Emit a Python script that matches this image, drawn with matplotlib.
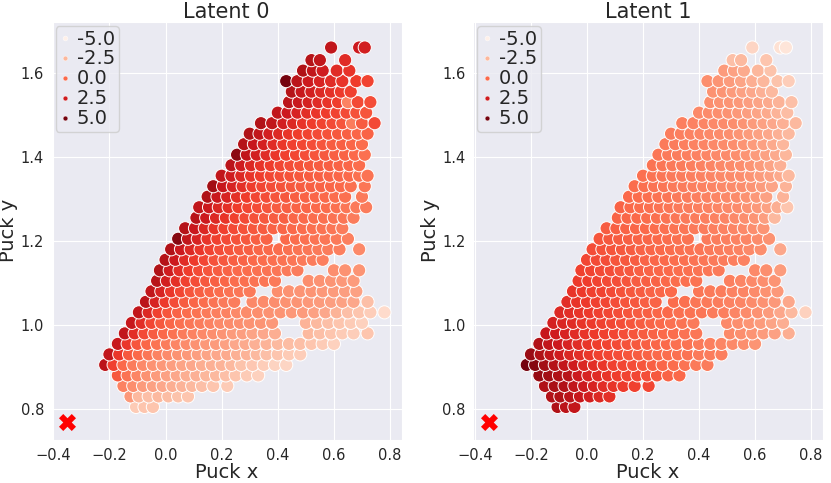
import numpy as np
import matplotlib
matplotlib.use("Agg")
import matplotlib.pyplot as plt
import matplotlib.colors as mplcolors
from matplotlib.lines import Line2D
import seaborn as sns

# Puck positions, one list per row of the cloud (bottom to top)
row_y = [0.805, 0.83, 0.855, 0.88, 0.905, 0.93, 0.955, 0.98, 1.005, 1.03,
         1.055, 1.08, 1.105, 1.13, 1.155, 1.18, 1.205, 1.23, 1.255, 1.28,
         1.305, 1.33, 1.355, 1.38, 1.405, 1.43, 1.455, 1.48, 1.505, 1.53,
         1.555, 1.58, 1.605, 1.63, 1.66]

row_x = [
    [-0.105, -0.075, -0.045],
    [-0.125, -0.095, -0.06, -0.025, 0.01, 0.045, 0.08],
    [-0.15, -0.115, -0.08, -0.045, -0.01, 0.025, 0.06, 0.095, 0.13, 0.17, 0.22],
    [-0.17, -0.135, -0.1, -0.065, -0.03, 0.005, 0.04, 0.075, 0.11, 0.145, 0.18, 0.215, 0.25, 0.29, 0.33],
    [-0.215, -0.185, -0.15, -0.115, -0.08, -0.045, -0.01, 0.025, 0.06, 0.095, 0.13, 0.165, 0.2, 0.235, 0.27, 0.31, 0.35, 0.39, 0.43],
    [-0.2, -0.165, -0.13, -0.095, -0.06, -0.025, 0.01, 0.045, 0.08, 0.115, 0.15, 0.185, 0.22, 0.255, 0.29, 0.325, 0.36, 0.40, 0.44, 0.48],
    [-0.17, -0.135, -0.1, -0.065, -0.03, 0.005, 0.04, 0.075, 0.11, 0.145, 0.18, 0.215, 0.25, 0.285, 0.32, 0.36, 0.40, 0.44, 0.48, 0.52, 0.56, 0.60],
    [-0.145, -0.11, -0.075, -0.04, -0.005, 0.03, 0.065, 0.1, 0.135, 0.17, 0.205, 0.24, 0.275, 0.31, 0.35, 0.39, 0.51, 0.55, 0.59, 0.63, 0.67, 0.72],
    [-0.12, -0.085, -0.05, -0.015, 0.02, 0.055, 0.09, 0.125, 0.16, 0.195, 0.23, 0.265, 0.30, 0.34, 0.38, 0.50, 0.54, 0.58, 0.62, 0.66, 0.70],
    [-0.095, -0.06, -0.025, 0.01, 0.045, 0.08, 0.115, 0.15, 0.185, 0.22, 0.255, 0.29, 0.33, 0.37, 0.41, 0.45, 0.49, 0.53, 0.57, 0.61, 0.65, 0.69, 0.73, 0.78],
    [-0.07, -0.035, 0.0, 0.035, 0.07, 0.105, 0.14, 0.175, 0.21, 0.245, 0.31, 0.35, 0.39, 0.43, 0.47, 0.51, 0.55, 0.59, 0.63, 0.67, 0.72],
    [-0.05, -0.015, 0.02, 0.055, 0.09, 0.125, 0.16, 0.195, 0.23, 0.265, 0.30, 0.40, 0.44, 0.48, 0.52, 0.56, 0.60, 0.64, 0.68],
    [-0.03, 0.005, 0.04, 0.075, 0.11, 0.145, 0.18, 0.215, 0.25, 0.285, 0.32, 0.355, 0.39, 0.51, 0.55, 0.59, 0.63, 0.67],
    [-0.02, 0.015, 0.05, 0.085, 0.12, 0.155, 0.19, 0.225, 0.26, 0.295, 0.33, 0.365, 0.40, 0.435, 0.47, 0.60, 0.64, 0.69],
    [0.0, 0.035, 0.07, 0.105, 0.14, 0.175, 0.21, 0.245, 0.28, 0.315, 0.35, 0.385, 0.42, 0.455, 0.49, 0.525, 0.56],
    [0.02, 0.055, 0.09, 0.125, 0.16, 0.195, 0.23, 0.265, 0.30, 0.335, 0.37, 0.405, 0.44, 0.475, 0.51, 0.545, 0.58, 0.62, 0.69],
    [0.045, 0.08, 0.115, 0.15, 0.185, 0.22, 0.255, 0.29, 0.325, 0.36, 0.43, 0.465, 0.50, 0.535, 0.57, 0.61, 0.65],
    [0.07, 0.105, 0.14, 0.175, 0.21, 0.245, 0.28, 0.315, 0.35, 0.385, 0.42, 0.455, 0.49, 0.525, 0.56, 0.595, 0.63],
    [0.11, 0.145, 0.18, 0.215, 0.25, 0.285, 0.32, 0.355, 0.39, 0.425, 0.46, 0.495, 0.53, 0.565, 0.60, 0.635, 0.67],
    [0.12, 0.155, 0.19, 0.225, 0.26, 0.295, 0.33, 0.365, 0.40, 0.435, 0.47, 0.505, 0.54, 0.575, 0.61, 0.645, 0.68, 0.715],
    [0.15, 0.185, 0.22, 0.255, 0.29, 0.325, 0.36, 0.395, 0.43, 0.465, 0.50, 0.535, 0.57, 0.605, 0.64, 0.70],
    [0.17, 0.205, 0.24, 0.275, 0.31, 0.345, 0.38, 0.415, 0.45, 0.485, 0.52, 0.555, 0.59, 0.625, 0.66, 0.71],
    [0.2, 0.235, 0.27, 0.305, 0.34, 0.375, 0.41, 0.445, 0.48, 0.515, 0.55, 0.585, 0.62, 0.655, 0.69, 0.72],
    [0.235, 0.27, 0.305, 0.34, 0.375, 0.41, 0.445, 0.48, 0.515, 0.55, 0.585, 0.62, 0.655, 0.69],
    [0.255, 0.29, 0.325, 0.36, 0.395, 0.43, 0.465, 0.50, 0.535, 0.57, 0.605, 0.64, 0.675, 0.71],
    [0.28, 0.315, 0.35, 0.385, 0.42, 0.455, 0.49, 0.525, 0.56, 0.595, 0.63, 0.665, 0.70],
    [0.30, 0.335, 0.37, 0.405, 0.44, 0.475, 0.51, 0.545, 0.58, 0.615, 0.65, 0.685, 0.72],
    [0.34, 0.38, 0.42, 0.455, 0.49, 0.525, 0.56, 0.595, 0.63, 0.665, 0.70, 0.745],
    [0.40, 0.435, 0.47, 0.505, 0.54, 0.575, 0.61, 0.645, 0.68, 0.715],
    [0.44, 0.475, 0.51, 0.545, 0.58, 0.615, 0.65, 0.685, 0.73],
    [0.45, 0.485, 0.52, 0.555, 0.59, 0.625, 0.66],
    [0.43, 0.47, 0.51, 0.55, 0.59, 0.63, 0.68, 0.72],
    [0.49, 0.525, 0.56, 0.61, 0.655],
    [0.52, 0.55, 0.64],
    [0.59, 0.69, 0.71],
]

latent0 = [
    [-3.2, -3.0, -3.0],
    [-1.5, -2.6, -2.8, -2.6, -2.7, -2.9, -3.0],
    [-0.8, -1.2, -1.6, -1.8, -2.0, -2.2, -2.4, -2.6, -2.8, -3.0, -3.2],
    [0.5, -0.3, -0.9, -1.3, -1.6, -1.8, -2.0, -2.2, -2.3, -2.5, -2.6, -2.8, -3.0, -3.2, -3.4],
    [3.2, 1.2, 0.0, -0.6, -1.0, -1.3, -1.5, -1.7, -1.9, -2.0, -2.2, -2.3, -2.4, -2.6, -2.9, -3.1, -3.3, -3.5, -3.6],
    [3.0, 1.5, 0.5, 0.0, -0.4, -0.8, -1.1, -1.3, -1.5, -1.7, -1.9, -2.0, -2.1, -2.3, -2.4, -2.6, -2.8, -3.0, -3.2, -3.3],
    [2.8, 1.5, 0.6, 0.1, -0.3, -0.6, -0.9, -1.1, -1.3, -1.5, -1.6, -1.8, -2.0, -2.1, -2.3, -2.4, -2.6, -2.7, -2.8, -3.0, -3.2, -3.4],
    [3.0, 1.8, 0.9, 0.4, 0.0, -0.3, -0.6, -0.8, -1.0, -1.2, -1.4, -1.6, -1.7, -1.9, -2.0, -2.2, -2.6, -2.8, -3.0, -3.2, -3.3, -3.0],
    [2.8, 1.8, 1.0, 0.5, 0.1, -0.2, -0.4, -0.6, -0.8, -1.0, -1.1, -1.2, -1.3, -1.4, -1.5, -2.4, -2.6, -2.8, -3.0, -3.2, -3.4],
    [3.0, 2.0, 1.2, 0.6, 0.2, -0.1, -0.3, -0.5, -0.7, -0.8, -1.0, -1.1, -1.2, -1.3, -1.4, -1.5, -1.6, -1.8, -2.0, -2.4, -2.8, -3.0, -3.3, -3.8],
    [3.2, 2.2, 1.4, 0.8, 0.4, 0.1, -0.1, -0.3, -0.5, -0.6, -1.0, -1.1, -1.2, -1.3, -1.4, -1.5, -1.6, -1.7, -1.8, -2.0, -2.8],
    [3.0, 2.2, 1.5, 1.0, 0.6, 0.3, 0.1, -0.1, -0.3, -0.4, -0.5, -1.2, -1.3, -1.4, -1.4, -1.5, -1.6, -1.7, -1.8],
    [3.3, 2.4, 1.7, 1.2, 0.8, 0.5, 0.3, 0.1, -0.1, -0.2, -0.3, -0.4, -0.5, -1.2, -1.3, -1.4, -1.5, -1.6],
    [3.6, 2.5, 1.8, 1.3, 0.9, 0.6, 0.4, 0.2, 0.0, -0.1, -0.2, -0.3, -0.4, -0.5, -0.6, -1.2, -1.3, -1.4],
    [3.4, 2.6, 1.9, 1.4, 1.0, 0.7, 0.5, 0.3, 0.2, 0.0, -0.1, -0.2, -0.3, -0.4, -0.5, -0.6, -0.7],
    [3.5, 2.6, 2.0, 1.5, 1.1, 0.8, 0.6, 0.4, 0.3, 0.1, 0.0, -0.1, -0.2, -0.3, -0.4, -0.5, -0.6, -0.7, -1.0],
    [4.6, 3.0, 2.2, 1.6, 1.2, 0.9, 0.7, 0.5, 0.3, 0.2, 0.0, -0.1, -0.2, -0.3, -0.4, -0.5, -0.7],
    [3.4, 2.7, 2.1, 1.6, 1.2, 0.9, 0.7, 0.5, 0.4, 0.2, 0.1, 0.0, -0.1, -0.2, -0.3, -0.4, -0.6],
    [3.3, 2.6, 2.0, 1.6, 1.2, 0.9, 0.7, 0.5, 0.4, 0.3, 0.1, 0.0, -0.1, -0.2, -0.3, -0.4, -0.6],
    [3.0, 2.6, 2.1, 1.7, 1.3, 1.0, 0.8, 0.6, 0.4, 0.3, 0.2, 0.1, 0.0, -0.1, -0.2, -0.4, -0.5, -0.6],
    [3.6, 2.7, 2.2, 1.7, 1.3, 1.0, 0.8, 0.6, 0.5, 0.3, 0.2, 0.1, 0.0, -0.1, -0.2, -0.5],
    [4.0, 2.8, 2.2, 1.7, 1.3, 1.0, 0.8, 0.7, 0.5, 0.4, 0.3, 0.2, 0.1, 0.0, -0.2, -0.4],
    [3.0, 2.5, 2.0, 1.6, 1.3, 1.0, 0.8, 0.7, 0.5, 0.4, 0.3, 0.2, 0.1, 0.0, -0.2, -0.3],
    [3.2, 2.5, 2.0, 1.6, 1.3, 1.0, 0.8, 0.7, 0.5, 0.4, 0.3, 0.2, 0.1, -0.1],
    [4.5, 3.0, 2.4, 1.9, 1.5, 1.2, 1.0, 0.8, 0.6, 0.5, 0.3, 0.2, 0.0, -0.2],
    [3.4, 2.8, 2.3, 1.9, 1.5, 1.2, 1.0, 0.8, 0.6, 0.4, 0.3, 0.1, -0.1],
    [3.6, 3.0, 2.4, 2.0, 1.6, 1.3, 1.1, 0.9, 0.7, 0.5, 0.3, 0.1, 0.2],
    [3.5, 3.0, 2.4, 2.0, 1.6, 1.3, 1.1, 0.9, 0.6, -0.6, 0.4, 0.9],
    [3.0, 2.6, 2.2, 1.8, 1.5, 1.3, 1.1, 0.9, 0.7, 0.6],
    [3.2, 2.7, 2.3, 1.9, 1.6, 1.3, -0.8, 0.9, 0.8],
    [3.4, 2.8, 2.4, 2.0, 1.7, 1.4, 1.2],
    [5.0, 3.2, 2.6, 2.2, 1.9, 1.6, 1.3, 1.1],
    [3.6, 3.0, 2.5, 1.9, 1.6],
    [3.4, 3.0, 1.9],
    [3.0, 2.6, 2.4],
]

latent1 = [
    [3.6, 3.2, 2.9],
    [3.5, 3.6, 3.2, 2.8, 2.4, 2.0, 1.7],
    [3.6, 3.8, 3.5, 3.0, 2.6, 2.2, 1.8, 1.6, 1.4, 1.2, 1.0],
    [4.3, 4.0, 3.6, 3.3, 2.6, 2.2, 1.9, 1.6, 1.3, 1.1, 1.0, 0.8, 0.5, 0.2, 0.0],
    [5.0, 4.6, 4.0, 3.4, 2.9, 2.5, 2.1, 1.8, 1.5, 1.2, 1.0, 0.8, 0.6, 0.3, 0.1, -0.1, -0.3, -0.5, -0.6],
    [4.2, 3.6, 3.0, 2.5, 2.1, 1.8, 1.5, 1.2, 1.0, 0.8, 0.6, 0.4, 0.2, 0.0, -0.1, -0.2, -0.3, -0.5, -0.6, -0.7],
    [3.5, 3.0, 2.6, 2.2, 1.9, 1.6, 1.3, 1.1, 0.9, 0.7, 0.5, 0.3, 0.1, 0.0, -0.2, -0.3, -0.5, -0.7, -0.9, -1.0, -1.2, -1.4],
    [2.8, 2.5, 2.2, 1.9, 1.6, 1.4, 1.2, 1.0, 0.8, 0.6, 0.4, 0.2, 0.0, -0.1, -0.3, -0.4, -1.0, -1.2, -1.4, -1.6, -1.8, -2.2],
    [2.3, 2.1, 1.9, 1.6, 1.4, 1.2, 1.0, 0.8, 0.6, 0.4, 0.2, 0.0, -0.2, -0.3, -0.5, -1.0, -1.2, -1.4, -1.6, -1.9, -2.2],
    [2.0, 1.8, 1.6, 1.4, 1.2, 1.0, 0.8, 0.6, 0.4, 0.3, 0.1, 0.0, -0.2, -0.3, -0.4, -0.6, -0.7, -0.9, -1.1, -1.3, -1.6, -2.0, -2.6, -3.4],
    [1.8, 1.6, 1.4, 1.2, 1.0, 0.8, 0.6, 0.5, 0.3, 0.2, -0.1, -0.2, -0.4, -0.5, -0.6, -0.8, -0.9, -1.1, -1.3, -1.5, -2.0],
    [1.6, 1.4, 1.2, 1.1, 0.9, 0.7, 0.5, 0.4, 0.2, 0.1, 0.0, -0.4, -0.5, -0.6, -0.8, -0.9, -1.1, -1.3, -1.5],
    [1.4, 1.3, 1.1, 0.9, 0.8, 0.6, 0.4, 0.3, 0.2, 0.0, -0.1, -0.2, -0.3, -0.7, -0.9, -1.0, -1.2, -1.4],
    [1.2, 1.1, 0.9, 0.8, 0.6, 0.5, 0.3, 0.2, 0.1, 0.0, -0.1, -0.2, -0.3, -0.4, -0.5, -1.0, -1.2, -1.6],
    [1.0, 0.9, 0.8, 0.6, 0.5, 0.4, 0.2, 0.1, 0.0, -0.1, -0.2, -0.3, -0.4, -0.5, -0.6, -0.7, -0.8],
    [0.8, 0.7, 0.6, 0.5, 0.4, 0.2, 0.1, 0.0, -0.1, -0.2, -0.3, -0.4, -0.5, -0.6, -0.7, -0.8, -1.0, -1.2, -2.0],
    [0.6, 0.5, 0.4, 0.3, 0.2, 0.1, 0.0, -0.1, -0.2, -0.3, -0.5, -0.6, -0.7, -0.8, -0.9, -1.1, -1.3],
    [0.4, 0.3, 0.2, 0.1, 0.0, -0.1, -0.2, -0.3, -0.4, -0.5, -0.6, -0.7, -0.8, -0.9, -1.0, -1.2, -1.4],
    [0.2, 0.1, 0.0, -0.1, -0.2, -0.3, -0.4, -0.5, -0.6, -0.7, -0.8, -0.9, -1.0, -1.2, -1.4, -1.7, -2.6],
    [0.2, 0.0, -0.1, -0.2, -0.3, -0.4, -0.5, -0.6, -0.7, -0.8, -0.9, -1.0, -1.1, -1.3, -1.5, -1.8, -2.2, -3.0],
    [0.0, -0.1, -0.2, -0.3, -0.4, -0.5, -0.6, -0.7, -0.8, -0.9, -1.0, -1.1, -1.3, -1.5, -1.8, -2.4],
    [-0.1, -0.2, -0.3, -0.4, -0.5, -0.6, -0.7, -0.8, -0.9, -1.0, -1.1, -1.2, -1.4, -1.6, -1.9, -2.4],
    [-0.2, -0.3, -0.4, -0.5, -0.6, -0.7, -0.8, -0.9, -1.0, -1.1, -1.2, -1.4, -1.6, -1.8, -2.1, -2.6],
    [-0.3, -0.4, -0.5, -0.6, -0.7, -0.8, -0.9, -1.0, -1.1, -1.2, -1.4, -1.6, -1.9, -2.3],
    [-0.4, -0.5, -0.6, -0.7, -0.8, -0.9, -1.0, -1.1, -1.2, -1.4, -1.6, -1.8, -2.1, -2.5],
    [-0.5, -0.6, -0.7, -0.8, -0.9, -1.0, -1.1, -1.2, -1.4, -1.6, -1.8, -2.1, -2.5],
    [-0.6, -0.7, -0.8, -0.9, -1.0, -1.1, -1.2, -1.4, -1.6, -1.8, -2.0, -2.3, -2.6],
    [-0.7, -0.8, -0.9, -1.0, -1.1, -1.2, -1.4, -1.6, -1.8, -2.0, -2.3, -2.6],
    [-1.0, -1.1, -1.2, -1.3, -1.5, -1.7, -1.9, -2.1, -2.4, -2.7],
    [-1.2, -1.3, -1.4, -1.5, -1.7, -1.9, -2.1, -2.4, -2.8],
    [-1.3, -1.4, -1.6, -1.8, -2.0, -2.3, -2.6],
    [-1.2, -1.4, -1.6, -1.9, -2.2, -2.5, -2.9, -3.3],
    [-1.6, -1.8, -2.1, -2.5, -2.9],
    [-2.8, -2.6, -3.0],
    [-3.6, -4.0, -4.3],
]

goal_x, goal_y = -0.35, 0.77
legend_levels = [-5.0, -2.5, 0.0, 2.5, 5.0]
titles = ['Latent 0', 'Latent 1']

# flatten the rows
puck_x, puck_y, lat0, lat1 = [], [], [], []
for y, xs, l0, l1 in zip(row_y, row_x, latent0, latent1):
    n = min(len(xs), len(l0), len(l1))
    puck_x += xs[:n]
    puck_y += [y] * n
    lat0 += l0[:n]
    lat1 += l1[:n]
puck_x = np.array(puck_x)
puck_y = np.array(puck_y)

sns.set_style('darkgrid')
plt.rcParams['font.family'] = ['DejaVu Sans']

cmap = plt.get_cmap('Reds')
norm = mplcolors.Normalize(vmin=-5.3, vmax=5.3)

fig = plt.figure(figsize=(8.31, 4.83), dpi=100)
ax1 = fig.add_axes([0.0622, 0.089, 0.4212, 0.866])
ax2 = fig.add_axes([0.5696, 0.089, 0.4205, 0.866])

for ax, vals, title in zip((ax1, ax2), (lat0, lat1), titles):
    plt.sca(ax)
    plt.scatter(puck_x, puck_y, c=vals, cmap=cmap, norm=norm, s=90,
                edgecolors='w', linewidths=0.7, zorder=2)
    # goal position
    plt.scatter([goal_x], [goal_y], c='red', marker='X', s=150,
                linewidths=0, zorder=3)
    plt.xlim(-0.4057, 0.8416)
    plt.ylim(0.7263, 1.7213)
    plt.xticks([-0.4, -0.2, 0.0, 0.2, 0.4, 0.6, 0.8])
    plt.yticks([0.8, 1.0, 1.2, 1.4, 1.6])
    ax.tick_params(labelsize=10.5, pad=2)
    plt.xlabel('Puck x', fontsize=14, labelpad=0)
    plt.ylabel('Puck y', fontsize=14, labelpad=2)
    plt.title(title, fontsize=15, pad=3)
    handles = [Line2D([], [], ls='', marker='o', markersize=3.5,
                      markerfacecolor=cmap(norm(v)), markeredgecolor='w',
                      markeredgewidth=0.3) for v in legend_levels]
    plt.legend(handles, [f'{v:.1f}' for v in legend_levels], loc='upper left',
               fontsize=14, labelspacing=0.05, borderpad=0.2, handlelength=0.6,
               handletextpad=0.3, borderaxespad=0.2)

plt.savefig('out.png', dpi=100)
